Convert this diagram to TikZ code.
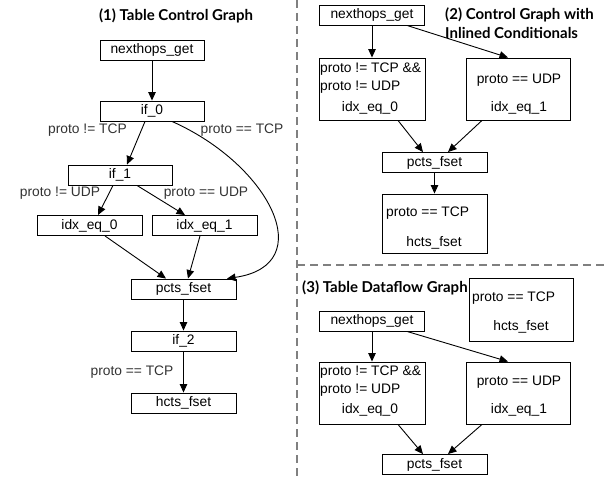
\documentclass[tikz,border=0pt]{standalone}
\usepackage{fontspec}
\setmainfont{Liberation Sans}
\newfontfamily\titlefont{Lato}
\usetikzlibrary{arrows.meta,calc}
\begin{document}
\begin{tikzpicture}[x=1pt,y=-1pt,
  box/.style={draw,line width=0.9pt,inner sep=0pt,minimum width=104,minimum height=20,font=\fontsize{13.8}{16}\selectfont},
  bigbox/.style={draw,line width=0.9pt,inner sep=0pt},
  txt/.style={inner sep=0pt,font=\fontsize{13.8}{16}\selectfont},
  lbl/.style={inner sep=0pt,font=\fontsize{13.8}{16}\selectfont,text=black!80},
  ttl/.style={inner sep=0pt,font=\titlefont\bfseries\fontsize{15}{18}\selectfont},
  arr/.style={-{Triangle[length=8.5pt,width=7.5pt]},line width=0.9pt},
  sep/.style={draw=black!50,line width=2pt,dash pattern=on 8pt off 5pt}]
\useasboundingbox (0,0) rectangle (605,478);
% separators
\coordinate (vt) at (297,0);
\coordinate (vb) at (297,478);
\coordinate (hl) at (297,265);
\coordinate (hr) at (605,265);
\draw[sep] (vt) -- (vb);
\draw[sep] (hl) -- (hr);
% ---------- panel 1 ----------
\node[ttl] (t1) at (176,16) {(1) Table Control Graph};
\node[box] (n1) at (152,50) {nexthops\_get};
\node[box] (if0) at (152,111) {if\_0};
\node[box] (if1) at (120,175) {if\_1};
\node[box,minimum width=105] (x10) at (89.5,225.5) {idx\_eq\_0};
\node[box,minimum width=105] (x11) at (204.5,225.5) {idx\_eq\_1};
\node[box,minimum width=105] (p1) at (183.5,289) {pcts\_fset};
\node[box,minimum width=105] (if2) at (183.5,341) {if\_2};
\node[box,minimum width=105] (h1) at (183.5,403) {hcts\_fset};
\node[lbl] (l1) at (87.5,130) {proto != TCP};
\node[lbl] (l2) at (242,130) {proto == TCP};
\node[lbl] (l3) at (60,193) {proto != UDP};
\node[lbl] (l4) at (206,193) {proto == UDP};
\node[lbl] (l5) at (132,372) {proto == TCP};
\draw[arr] (n1.south) -- (if0.north);
\draw[arr] ([xshift=-7]if0.south) -- ([xshift=7]if1.north);
\draw[arr] ([xshift=-7]if1.south) -- ([xshift=8.5]x10.north);
\draw[arr] ([xshift=17]if1.south) -- ([xshift=-19.5]x11.north);
\draw[arr] ([xshift=20]if0.south) .. controls (270,165) and (320,265) .. ([xshift=43.5]p1.north);
\draw[arr] ([xshift=15.5]x10.south) -- ([xshift=-17.5]p1.north);
\draw[arr] ([xshift=-4.5]x11.south) -- ([xshift=4.5]p1.north);
\draw[arr] (p1.south) -- (if2.north);
\draw[arr] (if2.south) -- (h1.north);
% ---------- panel 2 ----------
\node[ttl,anchor=west] (t2a) at (445,15) {(2) Control Graph with};
\node[ttl,anchor=west] (t2b) at (445,33) {Inlined Conditionals};
\node[box,minimum width=105] (n2) at (372,15) {nexthops\_get};
\node[bigbox,minimum width=106,minimum height=62] (i20) at (372,89) {};
\node[bigbox,minimum width=104,minimum height=62] (i21) at (518,89) {};
\node[box,minimum width=105] (p2) at (434.5,162.5) {pcts\_fset};
\node[bigbox,minimum width=105,minimum height=59] (h2) at (434.5,223.5) {};
\node[txt,anchor=west] (i20a) at (320,69) {proto != TCP \&\&};
\node[txt,anchor=west] (i20b) at (320,87) {proto != UDP};
\node[txt] (i20c) at (370,108) {idx\_eq\_0};
\node[txt] (i21a) at (519,80) {proto == UDP};
\node[txt] (i21b) at (519,108) {idx\_eq\_1};
\node[txt,anchor=west] (h2a) at (386,213) {proto == TCP};
\node[txt] (h2b) at (434,243) {hcts\_fset};
\draw[arr] (n2.south) -- (i20.north);
\draw[arr] ([xshift=35]n2.south) -- ([xshift=-10]i21.north);
\draw[arr] ([xshift=26]i20.south) -- ([xshift=-11.5]p2.north);
\draw[arr] ([xshift=-36]i21.south) -- ([xshift=13.5]p2.north);
\draw[arr] (p2.south) -- (h2.north);
% ---------- panel 3 ----------
\node[ttl,anchor=west] (t3) at (302,288) {(3) Table Dataflow Graph};
\node[bigbox,minimum width=104,minimum height=63] (h3) at (521,309.5) {};
\node[txt,anchor=west] (h3a) at (472,298) {proto == TCP};
\node[txt] (h3b) at (521,327) {hcts\_fset};
\node[box,minimum width=105] (n3) at (372,321) {nexthops\_get};
\node[bigbox,minimum width=106,minimum height=62] (i30) at (372,393) {};
\node[bigbox,minimum width=104,minimum height=62] (i31) at (518,393) {};
\node[box,minimum width=105] (p3) at (434.5,464.5) {pcts\_fset};
\node[txt,anchor=west] (i30a) at (320,372) {proto != TCP \&\&};
\node[txt,anchor=west] (i30b) at (320,390) {proto != UDP};
\node[txt] (i30c) at (370,410) {idx\_eq\_0};
\node[txt] (i31a) at (519,382) {proto == UDP};
\node[txt] (i31b) at (519,410) {idx\_eq\_1};
\draw[arr] (n3.south) -- (i30.north);
\draw[arr] ([xshift=35]n3.south) -- ([xshift=-10]i31.north);
\draw[arr] ([xshift=26]i30.south) -- ([xshift=-11.5]p3.north);
\draw[arr] ([xshift=-36]i31.south) -- ([xshift=13.5]p3.north);
\end{tikzpicture}
\end{document}
